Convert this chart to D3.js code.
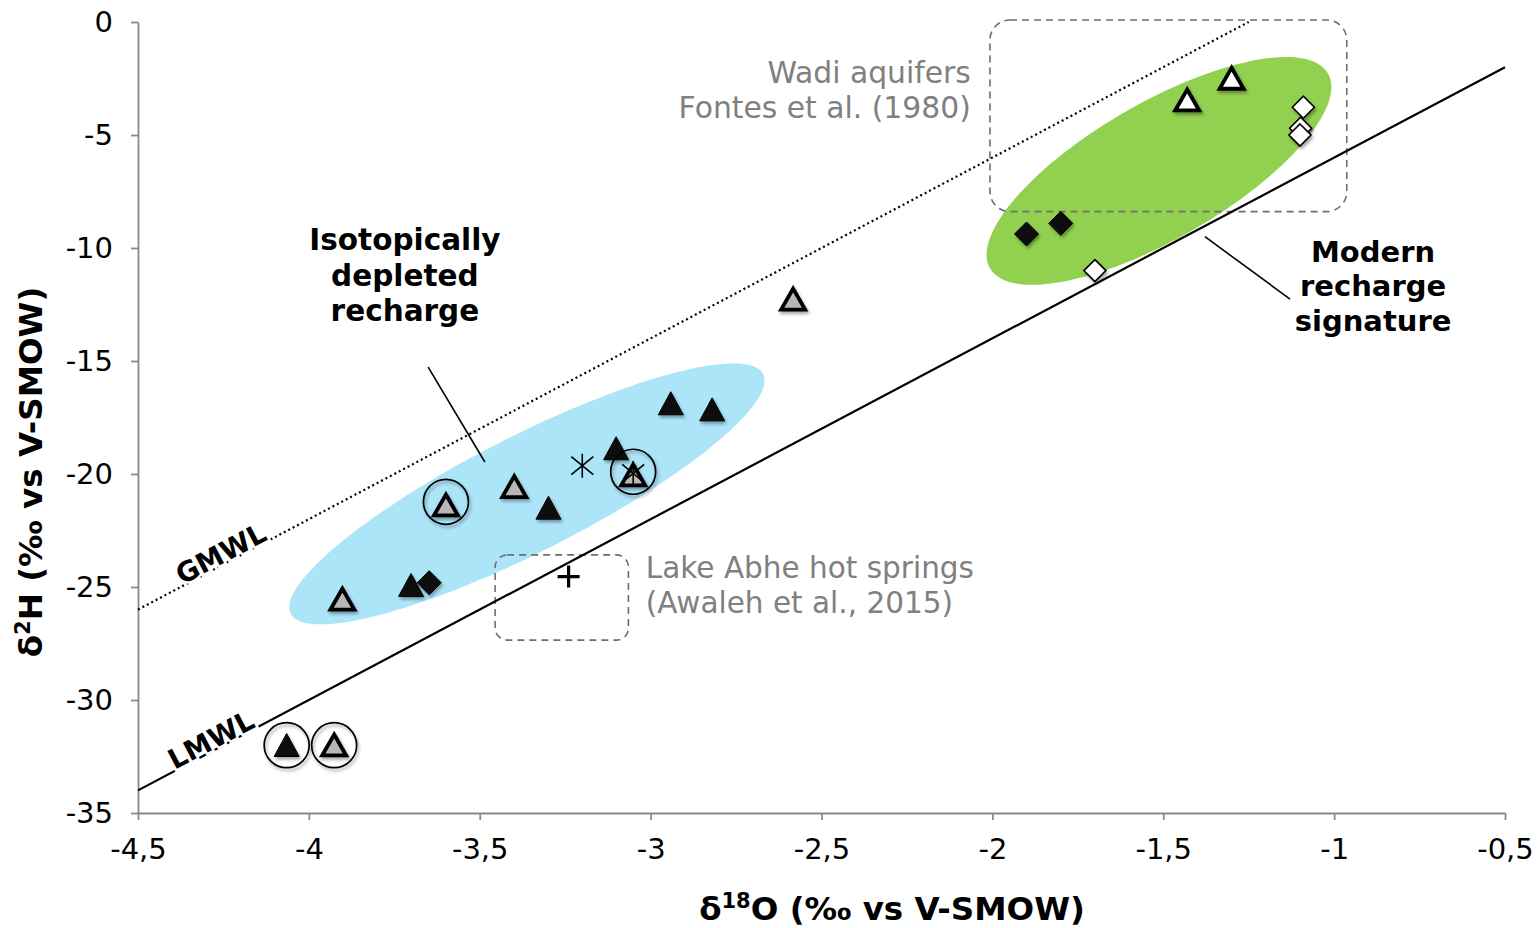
<!DOCTYPE html>
<html><head><meta charset="utf-8">
<script src="https://cdn.jsdelivr.net/npm/d3@7"></script>
<style>
html,body{margin:0;padding:0;background:#fff;}
svg{display:block;font-family:"DejaVu Sans",Verdana,sans-serif;}
</style></head>
<body>
<svg id="chart" width="1537" height="928"></svg>
<script>
// ---------- DATA ----------
const xTicks = [-4.5, -4, -3.5, -3, -2.5, -2, -1.5, -1, -0.5];
const yTicks = [0, -5, -10, -15, -20, -25, -30, -35];

const blackTriangles = [[-2.941,-16.87],[-2.820,-17.14],[-3.101,-18.86],[-3.299,-21.49],[-3.701,-24.91],[-4.065,-31.99]];
const grayTriangles  = [[-2.583,-12.26],[-3.399,-20.56],[-3.599,-21.37],[-3.902,-25.54],[-3.926,-31.99],[-3.051,-20.04]];
const whiteTriangles = [[-1.430,-3.45],[-1.300,-2.49]];
const blackDiamonds  = [[-3.648,-24.81],[-1.900,-9.38],[-1.800,-8.91]];
const whiteDiamonds  = [[-1.090,-3.77],[-1.098,-4.70],[-1.100,-5.00],[-1.700,-11.00]];
const asterisks      = [[-3.200,-19.63],[-3.051,-19.97]];
const plusPoints     = [[-3.240,-24.54]];
const circled        = [[-3.599,-21.23],[-3.051,-19.90],[-4.065,-32.00],[-3.926,-32.00]];

const gmwl = [[-4.5,-26],[-1.25,0]];
const lmwl = [[-4.5,-34],[-0.5,-2]];

// ellipses: centre, major-axis offset, minor-axis offset (data units)
const depletedEllipse = {c:[-3.362,-20.88], major:[0.691,5.30], minor:[0.077,-2.29]};
const modernEllipse   = {c:[-1.5125,-6.59], major:[0.4945,4.31], minor:[0.0995,-2.61]};

const wadiBox = [[-2.007,0.09],[-0.963,-8.39]];
const lakeBox = [[-3.455,-23.58],[-3.065,-27.35]];

const depletedLeader = [[-3.651,-15.27],[-3.485,-19.47]];
const modernLeader   = [[-1.378,-9.50],[-1.129,-12.26]];

const depletedLabel = {at:[-3.719,-10.09], lines:["Isotopically","depleted","recharge"]};
const modernLabel   = {at:[-0.886,-10.61], lines:["Modern","recharge","signature"]};
const wadiLabel     = {at:[-2.063,-2.71], lines:["Wadi aquifers","Fontes et al. (1980)"]};
const lakeLabel     = {at:[-3.014,-24.62], lines:["Lake Abhe hot springs","(Awaleh et al., 2015)"]};
const lineLabels    = [{name:"GMWL", xVal:-4.243, line:gmwl},{name:"LMWL", xVal:-4.272, line:lmwl}];

// ---------- CHART ----------
const svg = d3.select("#chart");
const x = d3.scaleLinear().domain([-4.5,-0.5]).range([138,1505]);
const y = d3.scaleLinear().domain([-35,0]).range([813,22]);
const fmt = d => String(d).replace(".", ",");

const defs = svg.append("defs");
const f = defs.append("filter").attr("id","shadow").attr("x","-50%").attr("y","-50%").attr("width","200%").attr("height","200%");
f.append("feDropShadow").attr("dx",1.5).attr("dy",2.5).attr("stdDeviation",1.6).attr("flood-color","#000").attr("flood-opacity",0.35);

// ellipses
function ellipsePath(e){
  const pts = d3.range(0, 360, 3).map(t => {
    const a = t*Math.PI/180;
    return [x(e.c[0] + Math.cos(a)*e.major[0] + Math.sin(a)*e.minor[0]),
            y(e.c[1] + Math.cos(a)*e.major[1] + Math.sin(a)*e.minor[1])];
  });
  return d3.line().curve(d3.curveCardinalClosed)(pts);
}
svg.append("path").attr("d", ellipsePath(depletedEllipse)).attr("fill","#ace4f8");
svg.append("path").attr("d", ellipsePath(modernEllipse)).attr("fill","#92d050");

// dashed boxes
function box(b, r){
  svg.append("rect")
    .attr("x", x(b[0][0])).attr("y", y(b[0][1]))
    .attr("width", x(b[1][0]) - x(b[0][0])).attr("height", y(b[1][1]) - y(b[0][1]))
    .attr("rx", r).attr("ry", r)
    .attr("fill","none").attr("stroke","#6e6e6e").attr("stroke-width",1.6).attr("stroke-dasharray","7,5");
}
box(wadiBox, 20);
box(lakeBox, 12);

// axes
const yAxis = svg.append("g").attr("transform",`translate(${x(-4.5)},0)`)
  .call(d3.axisLeft(y).tickValues(yTicks).tickFormat(fmt).tickSize(7).tickSizeOuter(0).tickPadding(18));
const xAxis = svg.append("g").attr("transform",`translate(0,${y(-35)})`)
  .call(d3.axisBottom(x).tickValues(xTicks).tickFormat(fmt).tickSize(7).tickSizeOuter(0).tickPadding(18));
[xAxis,yAxis].forEach(g=>{
  g.selectAll(".domain,line").attr("stroke","#898989").attr("stroke-width",1.8);
  g.selectAll("text").attr("font-size",29).attr("fill","#000").attr("font-family","DejaVu Sans, sans-serif");
});

// MWL lines
const ln = d3.line().x(d=>x(d[0])).y(d=>y(d[1]));
svg.append("path").attr("d", ln(gmwl)).attr("stroke","#000").attr("stroke-width",2.2)
  .attr("stroke-dasharray","2,3").attr("fill","none");
svg.append("path").attr("d", ln(lmwl)).attr("stroke","#000").attr("stroke-width",2.2).attr("fill","none");

// line labels
lineLabels.forEach(l=>{
  const [p0,p1] = l.line;
  const ang = Math.atan2(y(p1[1])-y(p0[1]), x(p1[0])-x(p0[0]))*180/Math.PI;
  const yv = p0[1] + (p1[1]-p0[1])*(l.xVal-p0[0])/(p1[0]-p0[0]);
  svg.append("text").attr("transform",`translate(${x(l.xVal)},${y(yv)}) rotate(${ang})`)
    .attr("text-anchor","middle").attr("dy",-1)
    .attr("font-size",27.5).attr("font-weight","bold")
    .attr("stroke","#fff").attr("stroke-width",5).attr("paint-order","stroke")
    .attr("fill","#000").text(l.name);
});

// leaders
[depletedLeader, modernLeader].forEach(l=>{
  svg.append("path").attr("d", ln(l)).attr("stroke","#000").attr("stroke-width",1.6).attr("fill","none");
});

// markers
const S = svg.append("g");
function tri(w,h){ return `M0,${-h/2}L${w/2},${h/2}L${-w/2},${h/2}Z`; }
function dia(r){ return `M0,${-r}L${r},0L0,${r}L${-r},0Z`; }

S.selectAll(".bt").data(blackTriangles).join("path")
  .attr("transform",d=>`translate(${x(d[0])},${y(d[1])})`)
  .attr("d",tri(25,23)).attr("fill","#111").attr("stroke","#000").attr("stroke-width",1).attr("filter","url(#shadow)");
S.selectAll(".gt").data(grayTriangles).join("path")
  .attr("transform",d=>`translate(${x(d[0])},${y(d[1])})`)
  .attr("d",tri(24,21)).attr("fill","#b7b7b7").attr("stroke","#000").attr("stroke-width",3.8)
  .attr("stroke-linejoin","miter").attr("filter","url(#shadow)");
S.selectAll(".wt").data(whiteTriangles).join("path")
  .attr("transform",d=>`translate(${x(d[0])},${y(d[1])})`)
  .attr("d",tri(24,21)).attr("fill","#fff").attr("stroke","#000").attr("stroke-width",3.8)
  .attr("filter","url(#shadow)");
S.selectAll(".bd").data(blackDiamonds).join("path")
  .attr("transform",d=>`translate(${x(d[0])},${y(d[1])})`)
  .attr("d",dia(12)).attr("fill","#111").attr("stroke","#000").attr("stroke-width",1).attr("filter","url(#shadow)");
S.selectAll(".wd").data(whiteDiamonds).join("path")
  .attr("transform",d=>`translate(${x(d[0])},${y(d[1])})`)
  .attr("d",dia(11)).attr("fill","#fff").attr("stroke","#000").attr("stroke-width",1.6).attr("filter","url(#shadow)");
S.selectAll(".as").data(asterisks).join("path")
  .attr("transform",d=>`translate(${x(d[0])},${y(d[1])})`)
  .attr("d","M0,-12L0,12M-11,-9L11,9M-11,9L11,-9").attr("stroke","#000").attr("stroke-width",1.6).attr("fill","none");
S.selectAll(".pl").data(plusPoints).join("path")
  .attr("transform",d=>`translate(${x(d[0])},${y(d[1])})`)
  .attr("d","M0,-11L0,11M-11,0L11,0").attr("stroke","#000").attr("stroke-width",3.2).attr("fill","none");
S.selectAll(".ci").data(circled).join("circle")
  .attr("cx",d=>x(d[0])).attr("cy",d=>y(d[1])).attr("r",22.5)
  .attr("fill","none").attr("stroke","#000").attr("stroke-width",1.7).attr("filter","url(#shadow)");

// text labels
function label(l, opts){
  const t = svg.append("text").attr("x", x(l.at[0])).attr("y", y(l.at[1]))
    .attr("text-anchor", opts.anchor).attr("font-size", opts.size)
    .attr("font-weight", opts.bold ? "bold" : "normal").attr("fill", opts.color);
  l.lines.forEach((s,i)=>{
    t.append("tspan").attr("x", x(l.at[0])).attr("dy", i===0 ? 0 : opts.lh).text(s);
  });
}
label(depletedLabel, {anchor:"middle", size:29.5, bold:true, color:"#000", lh:35.5});
label(modernLabel,   {anchor:"middle", size:29, bold:true, color:"#000", lh:34.5});
label(wadiLabel,     {anchor:"end",    size:29.8, bold:false, color:"#808080", lh:35});
label(lakeLabel,     {anchor:"start",  size:29.5, bold:false, color:"#808080", lh:35});

// axis titles
const xt = svg.append("text").attr("x",892).attr("y",920).attr("text-anchor","middle")
  .attr("font-size",32.5).attr("font-weight","bold");
xt.append("tspan").text("δ");
xt.append("tspan").attr("font-size",21).attr("dy",-12).text("18");
xt.append("tspan").attr("dy",12).text("O (‰ vs V-SMOW)");

const yt = svg.append("text").attr("transform","translate(42,472) rotate(-90)").attr("text-anchor","middle")
  .attr("font-size",32.5).attr("font-weight","bold");
yt.append("tspan").text("δ");
yt.append("tspan").attr("font-size",21).attr("dy",-12).text("2");
yt.append("tspan").attr("dy",12).text("H (‰ vs V-SMOW)");
</script>
</body></html>
